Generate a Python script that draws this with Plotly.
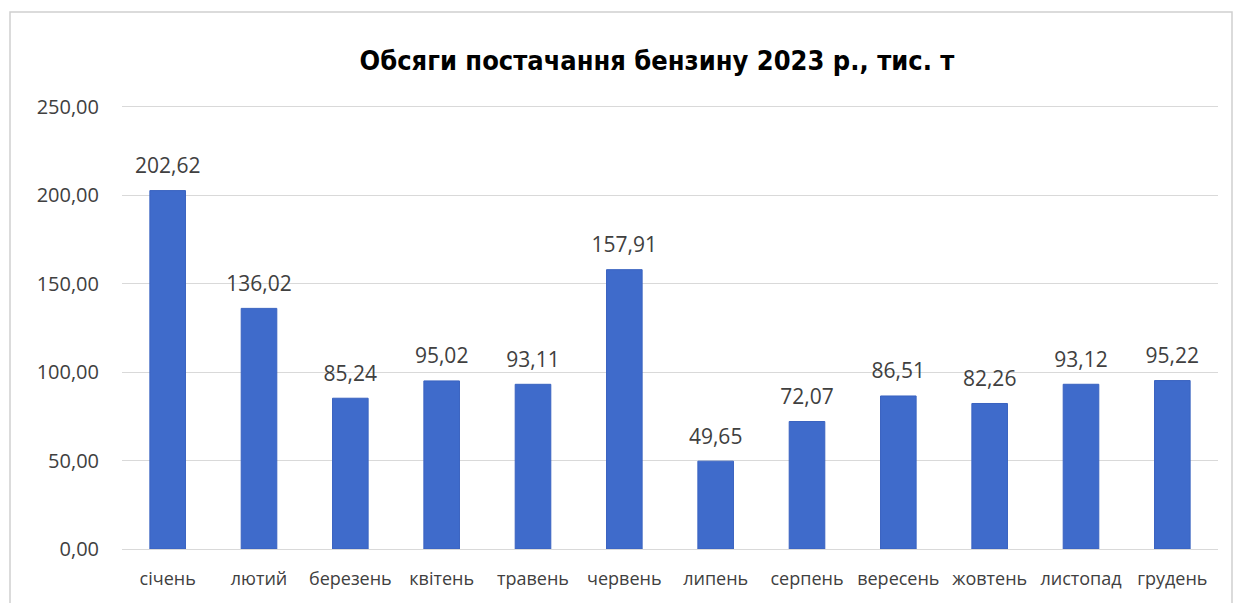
import plotly.graph_objects as go

months = ["січень", "лютий", "березень", "квітень", "травень", "червень",
          "липень", "серпень", "вересень", "жовтень", "листопад", "грудень"]
volumes = [202.62, 136.02, 85.24, 95.02, 93.11, 157.91,
           49.65, 72.07, 86.51, 82.26, 93.12, 95.22]
y_ticks = [0, 50, 100, 150, 200, 250]

W, H = 1236, 603
L, R, T, B = 122, 18, 105, 54
pw, ph = W - L - R, H - T - B

labels = [f"{v:.2f}".replace(".", ",") for v in volumes]

fig = go.Figure()
fig.add_trace(go.Bar(
    x=months,
    y=volumes,
    marker=dict(color="#3f6bcb", line=dict(width=1, color="#3a63c0")),
    hoverinfo="x+y",
))
# value labels sitting above each bar
fig.add_trace(go.Scatter(
    x=months,
    y=volumes,
    mode="markers+text",
    marker=dict(size=18, color="rgba(0,0,0,0)"),
    text=labels,
    textposition="top center",
    textfont=dict(family="Open Sans", size=21, color="#404040"),
    cliponaxis=False,
    hoverinfo="skip",
))

# outer chart frame
fig.add_shape(
    type="rect", xref="paper", yref="paper",
    x0=(10 - L) / pw, x1=(W - 4 - L) / pw,
    y0=-(B + 10) / ph, y1=1 + (T - 12) / ph,
    line=dict(color="#d0d0d0", width=1.5), fillcolor="rgba(0,0,0,0)",
    layer="below",
)

fig.update_layout(
    width=W, height=H,
    margin=dict(l=L, r=R, t=T, b=B),
    paper_bgcolor="white", plot_bgcolor="white",
    separators=", ",
    showlegend=False,
    bargap=0.61,
    title=dict(
        text="<b>Обсяги постачання бензину 2023 р., тис. т</b>",
        x=657 / W, xanchor="center",
        y=1 - 61 / H, yanchor="middle",
        font=dict(family="Liberation Sans Narrow, DejaVu Sans Condensed, Liberation Sans",
                  size=27, color="#000000"),
    ),
    xaxis=dict(
        range=[-0.5, len(months) - 0.5],
        showgrid=False, showline=True, linecolor="#d9d9d9", linewidth=1,
        ticks="", tickfont=dict(family="Open Sans", size=18, color="#404040"),
        ticklabelstandoff=13,
    ),
    yaxis=dict(
        range=[0, 251], tickvals=y_ticks, tickformat=".2f",
        showgrid=True, gridcolor="#d9d9d9", gridwidth=1,
        zeroline=False, showline=False, ticks="",
        tickfont=dict(family="Open Sans", size=20, color="#404040"),
        ticklabelstandoff=22,
    ),
)

fig.write_html("out.html")
